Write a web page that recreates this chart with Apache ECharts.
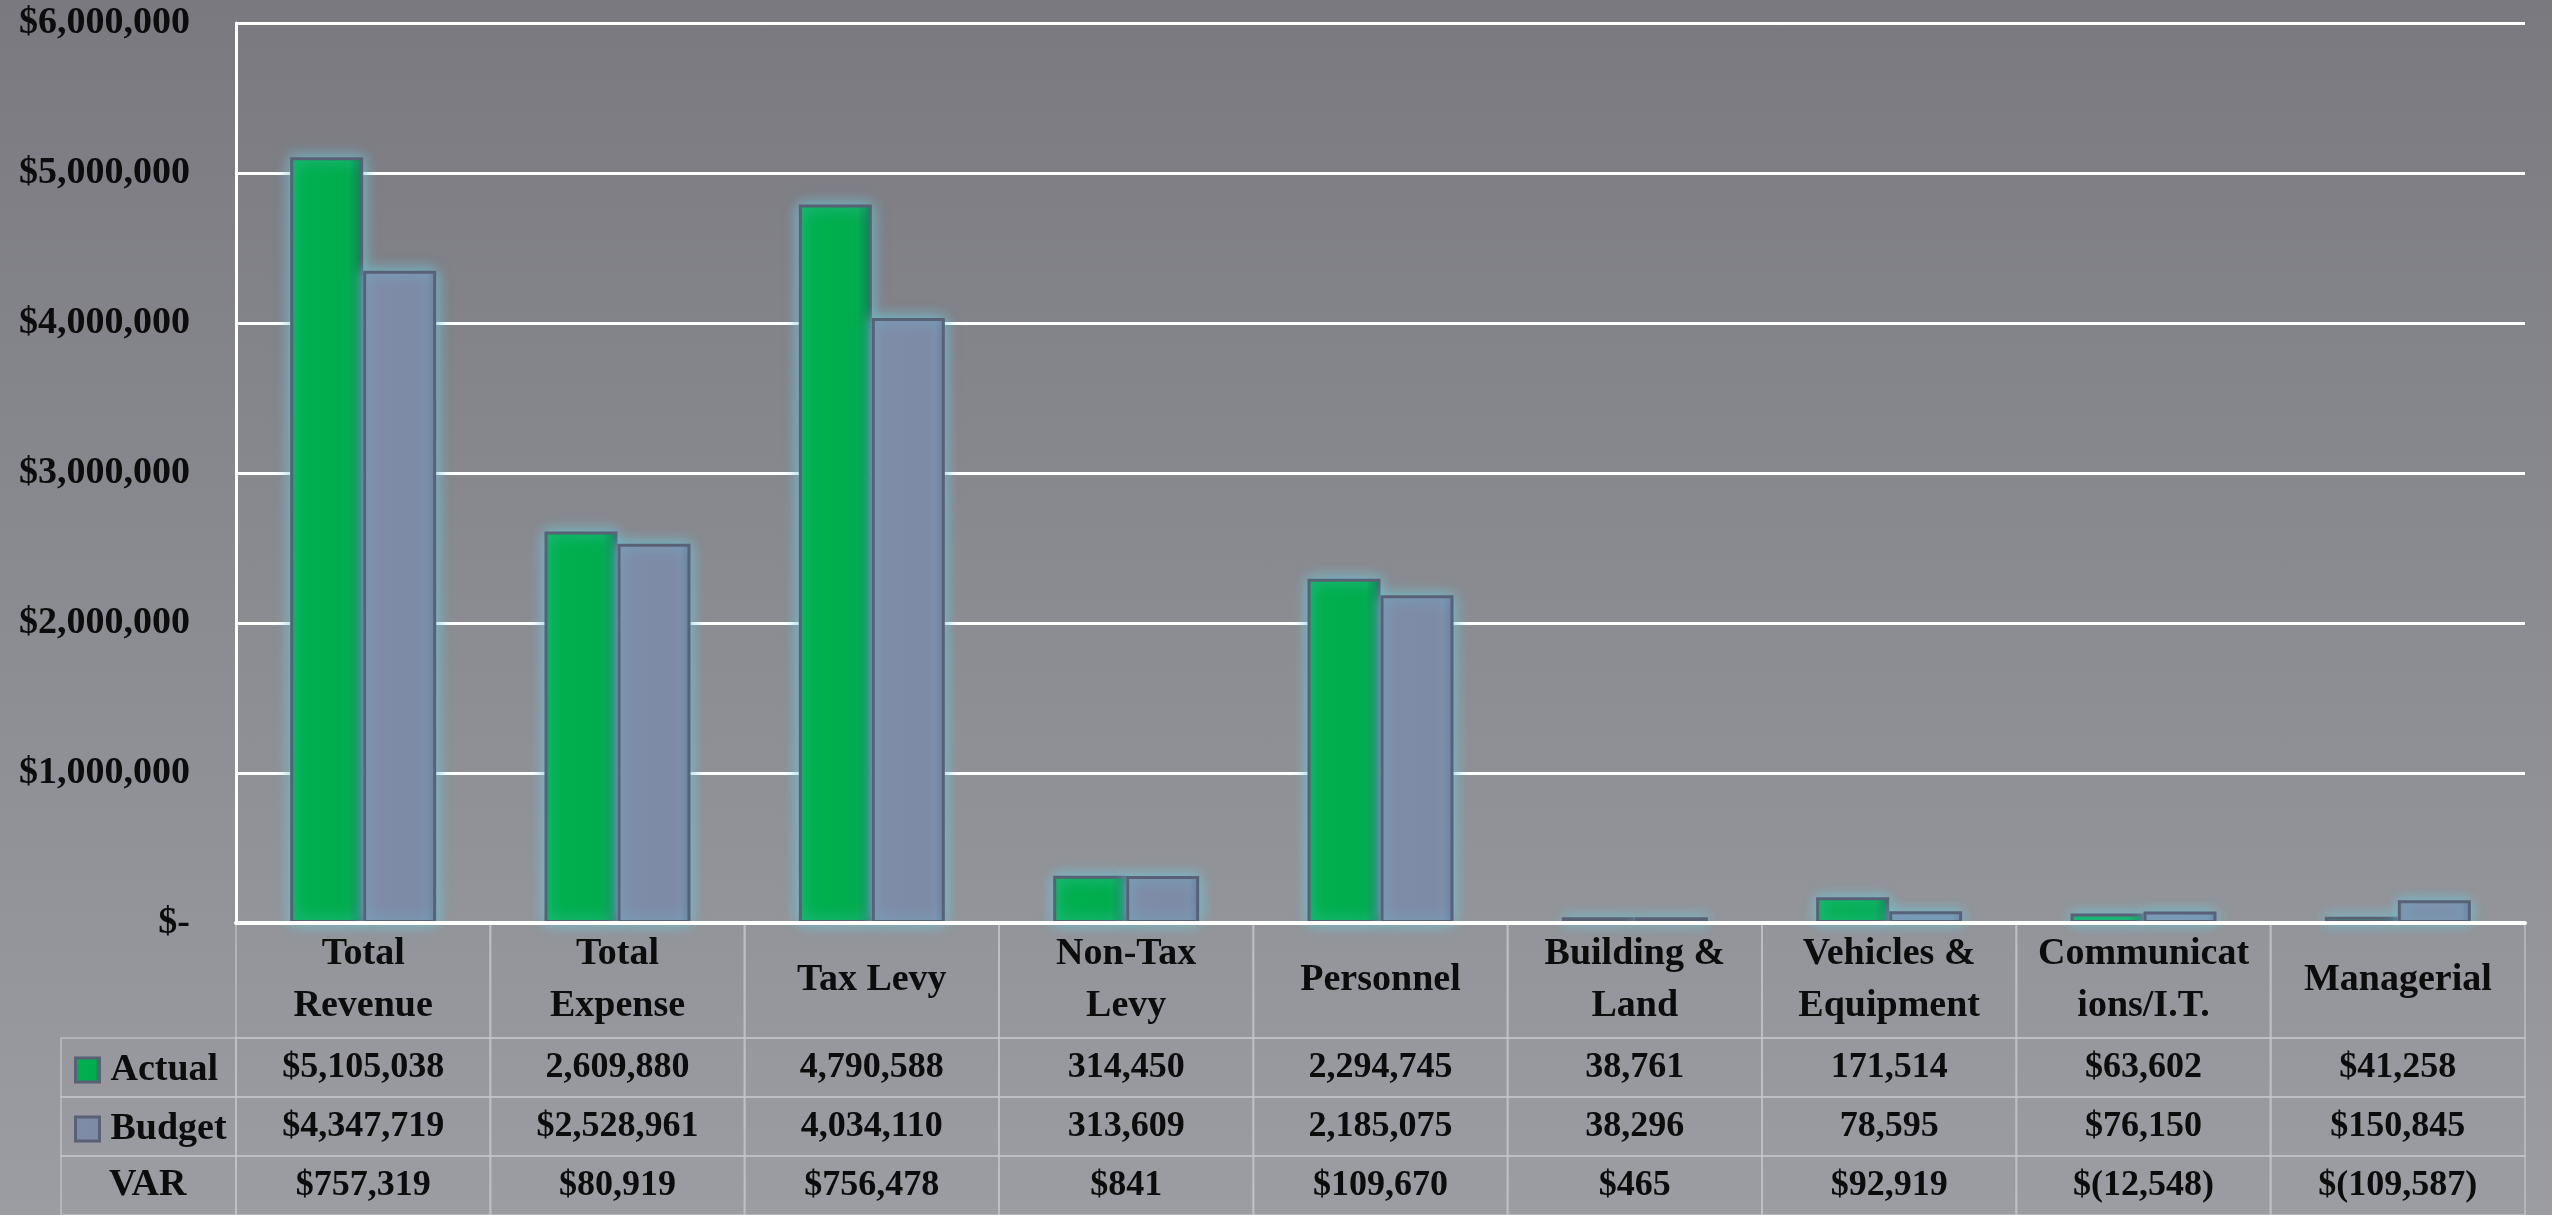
<!DOCTYPE html>
<html>
<head>
<meta charset="utf-8">
<script src="https://cdn.jsdelivr.net/npm/echarts@6/dist/echarts.min.js"></script>
<style>
  html, body {
    margin: 0;
    padding: 0;
  }
  #chart {
    width: 2552px;
    height: 1215px;
    background: linear-gradient(180deg, #7a7980 0%, #898a90 45%, #9b9da2 100%);
  }
</style>
</head>
<body>
<div id="chart"></div>
<script>
// categories (header row of the data table)
const categories = ['Total\nRevenue', 'Total\nExpense', 'Tax Levy', 'Non-Tax\nLevy', 'Personnel',
  'Building &\nLand', 'Vehicles &\nEquipment', 'Communicat\nions/I.T.', 'Managerial'];

// series values
const actual = [5105038, 2609880, 4790588, 314450, 2294745, 38761, 171514, 63602, 41258];
const budget = [4347719, 2528961, 4034110, 313609, 2185075, 38296, 78595, 76150, 150845];

// table text, as printed under the chart
const actualText = ['$5,105,038', '2,609,880', '4,790,588', '314,450', '2,294,745', '38,761', '171,514', '$63,602', '$41,258'];
const budgetText = ['$4,347,719', '$2,528,961', '4,034,110', '313,609', '2,185,075', '38,296', '78,595', '$76,150', '$150,845'];
const varText = ['$757,319', '$80,919', '$756,478', '$841', '$109,670', '$465', '$92,919', '$(12,548)', '$(109,587)'];

// y axis ticks
const yMax = 6000000;
const yStep = 1000000;

const FONT = 'Liberation Serif';
const TEXT_COLOR = '#0c0c0c';
const HEADER_H = 115;
const ROW_H = 59;
const LEGEND_W = 175;
const CELL_LINE = 'rgba(196,198,202,0.6)';

const chart = echarts.init(document.getElementById('chart'));

// one column of the data table
function renderColumn(params, api) {
  const i = api.value(0);
  const cx = api.coord([i, 0])[0];
  const w = api.size([1, 0])[0];
  const cs = params.coordSys;
  const rows = [
    { h: HEADER_H, text: categories[i], size: 38 },
    { h: ROW_H, text: actualText[i], size: 36 },
    { h: ROW_H, text: budgetText[i], size: 36 },
    { h: ROW_H, text: varText[i], size: 36 }
  ];
  const children = [];
  let y = cs.y;
  rows.forEach(r => {
    children.push({
      type: 'rect',
      shape: { x: cx - w / 2, y: y, width: w, height: r.h },
      style: { fill: 'none', stroke: CELL_LINE, lineWidth: 2 }
    });
    children.push({
      type: 'text',
      style: {
        text: r.text, x: cx, y: y + r.h / 2,
        align: 'center', verticalAlign: 'middle',
        fontFamily: FONT, fontWeight: 'bold', fontSize: r.size, lineHeight: 52,
        fill: TEXT_COLOR
      }
    });
    y += r.h;
  });
  return { type: 'group', children: children };
}

// legend column on the left of the table (Actual / Budget / VAR)
function renderLegendColumn(params, api) {
  const cs = params.coordSys;
  const x0 = cs.x - LEGEND_W;
  const children = [];
  let y = cs.y + HEADER_H;
  for (let k = 0; k < 3; k++) {
    children.push({
      type: 'rect',
      shape: { x: x0, y: y, width: LEGEND_W, height: ROW_H },
      style: { fill: 'none', stroke: CELL_LINE, lineWidth: 2 }
    });
    y += ROW_H;
  }
  children.push({
    type: 'text',
    style: {
      text: 'VAR', x: x0 + 48, y: cs.y + HEADER_H + ROW_H * 2.5,
      align: 'left', verticalAlign: 'middle',
      fontFamily: FONT, fontWeight: 'bold', fontSize: 38, fill: TEXT_COLOR
    }
  });
  return { type: 'group', children: children };
}

const barBorder = '#596176';
const glow = 'rgba(105,205,222,0.85)';

chart.setOption({
  animation: false,
  textStyle: { fontFamily: FONT },
  legend: {
    orient: 'vertical',
    left: 74,
    top: 1051,
    padding: 0,
    itemWidth: 24,
    itemHeight: 24,
    itemGap: 21,
    icon: 'rect',
    data: ['Actual', 'Budget'],
    itemStyle: { borderColor: barBorder, borderWidth: 3, shadowBlur: 0 },
    textStyle: {
      fontFamily: FONT, fontWeight: 'bold', fontSize: 38, color: TEXT_COLOR,
      padding: [0, 0, 0, 6]
    }
  },
  grid: [
    { left: 236, right: 27, top: 23, height: 900 },
    { left: 236, right: 27, top: 923, height: 292 }
  ],
  xAxis: [
    {
      type: 'category', gridIndex: 0, data: categories,
      axisLine: { show: true, lineStyle: { color: '#ffffff', width: 4 } },
      axisTick: { show: false },
      axisLabel: { show: false },
      z: 5
    },
    {
      type: 'category', gridIndex: 1, data: categories,
      axisLine: { show: false }, axisTick: { show: false }, axisLabel: { show: false }
    }
  ],
  yAxis: [
    {
      type: 'value', gridIndex: 0, min: 0, max: yMax, interval: yStep,
      axisLine: { show: true, lineStyle: { color: '#ffffff', width: 3 } },
      axisTick: { show: false },
      splitLine: { lineStyle: { color: '#ffffff', width: 3 } },
      axisLabel: {
        margin: 46,
        fontFamily: FONT, fontWeight: 'bold', fontSize: 38, color: TEXT_COLOR,
        formatter: v => v === 0 ? '$-' : '$' + v.toLocaleString('en-US')
      }
    },
    {
      type: 'value', gridIndex: 1, min: 0, max: 1, show: false
    }
  ],
  series: [
    {
      name: 'Actual',
      type: 'bar',
      data: actual,
      barWidth: 73,
      barGap: '0%',
      itemStyle: {
        color: {
          type: 'linear', x: 0, y: 0, x2: 1, y2: 0,
          colorStops: [
            { offset: 0, color: '#00b04f' },
            { offset: 0.8, color: '#00ad4e' },
            { offset: 1, color: '#00703a' }
          ]
        },
        borderColor: barBorder,
        borderWidth: 3,
        shadowColor: glow,
        shadowBlur: 14
      }
    },
    {
      name: 'Budget',
      type: 'bar',
      data: budget,
      barWidth: 73,
      itemStyle: {
        color: {
          type: 'linear', x: 0, y: 0, x2: 1, y2: 0,
          colorStops: [
            { offset: 0, color: '#7f8ca8' },
            { offset: 0.86, color: '#7e8ba7' },
            { offset: 1, color: '#6b7591' }
          ]
        },
        borderColor: barBorder,
        borderWidth: 3,
        shadowColor: glow,
        shadowBlur: 14
      }
    },
    {
      name: 'table',
      type: 'custom',
      xAxisIndex: 1,
      yAxisIndex: 1,
      data: categories.map((c, i) => [i]),
      renderItem: renderColumn,
      silent: true
    },
    {
      name: 'tableLegend',
      type: 'custom',
      xAxisIndex: 1,
      yAxisIndex: 1,
      data: [[0]],
      renderItem: renderLegendColumn,
      silent: true
    }
  ]
});
</script>
</body>
</html>
